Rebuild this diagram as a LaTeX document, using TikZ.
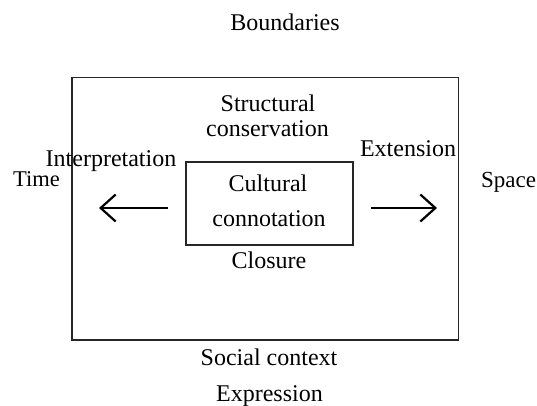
\documentclass[tikz,border=0pt]{standalone}
\usepackage{fontspec}
\setmainfont{Liberation Serif}
\usetikzlibrary{arrows.meta}
\begin{document}
\begin{tikzpicture}[x=1pt,y=-1pt,
  lbl/.style={inner sep=0pt,anchor=base,font=\fontsize{24}{26}\selectfont},
  box/.style={draw=black!85,line width=1.3pt},
  arr/.style={line width=2.2pt,-{Straight Barb[length=15pt,width=27pt,line width=2.2pt]}}]
\useasboundingbox (0,0) rectangle (537,406);
\draw[box] (72,77.5) rectangle (458.5,340);
\node[box,inner sep=0pt,minimum width=167pt,minimum height=83pt] (inner) at (269.5,203.5) {};
\node[lbl] (bound) at (285,31) {Boundaries};
\node[lbl] (struct1) at (268,112) {Structural};
\node[lbl] (struct2) at (267.5,137) {conservation};
\node[lbl] (interp) at (111,166) {Interpretation};
\node[lbl,font=\fontsize{22.5}{26}\selectfont] (time) at (36.5,186) {Time};
\node[lbl] (ext) at (408,157) {Extension};
\node[lbl,anchor=base west,font=\fontsize{23}{26}\selectfont] (space) at (481,187) {Space};
\node[lbl] (cult1) at (268,191) {Cultural};
\node[lbl] (cult2) at (269,226) {connotation};
\node[lbl] (clos) at (269,268) {Closure};
\node[lbl] (soc) at (269,365) {Social context};
\node[lbl] (expr) at (269.5,401.5) {Expression};
\coordinate (lt) at (168,208);
\coordinate (lh) at (99,208);
\coordinate (rt) at (371,208);
\coordinate (rh) at (437,208);
\draw[arr] (lt) -- (lh);
\draw[arr] (rt) -- (rh);
\end{tikzpicture}
\end{document}
